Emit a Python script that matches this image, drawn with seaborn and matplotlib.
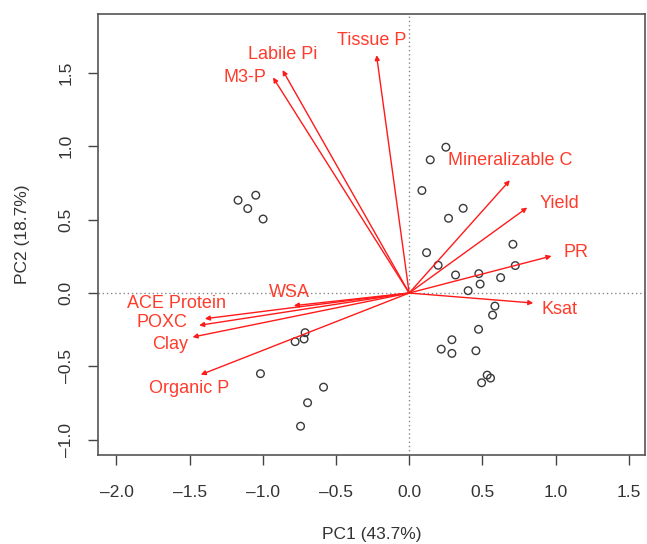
import numpy as np
import pandas as pd
import matplotlib
matplotlib.use("Agg")
import matplotlib.pyplot as plt
import seaborn as sns

# PCA scores (sites)
pc1_scores = [-1.169, -1.048, -1.103, -0.998,
              0.251, 0.144, 0.087, 0.369, 0.269, 0.709, 0.119, 0.198, 0.725,
              0.317, 0.476, 0.625, 0.485, 0.403,
              0.586, 0.570, 0.474, 0.292, 0.219, 0.292, 0.456, 0.533, 0.556, 0.495,
              -0.711, -0.718, -0.779, -1.016, -0.585, -0.694, -0.742]
pc2_scores = [0.632, 0.666, 0.575, 0.504,
              0.993, 0.907, 0.698, 0.577, 0.509, 0.332, 0.275, 0.189, 0.187,
              0.123, 0.132, 0.105, 0.061, 0.016,
              -0.089, -0.150, -0.247, -0.318, -0.382, -0.411, -0.393, -0.559, -0.579, -0.611,
              -0.270, -0.313, -0.331, -0.549, -0.641, -0.747, -0.907]

# loadings (arrow tips) and where each label sits
variables = ["Tissue P", "Labile Pi", "M3-P", "Mineralizable C", "Yield", "PR",
             "Ksat", "WSA", "ACE Protein", "POXC", "Clay", "Organic P"]
load_pc1 = [-0.223, -0.865, -0.930, 0.688, 0.807, 0.973,
            0.848, -0.788, -1.396, -1.435, -1.480, -1.424]
load_pc2 = [1.620, 1.518, 1.468, 0.768, 0.582, 0.252,
            -0.068, -0.086, -0.175, -0.220, -0.300, -0.556]
label_x = [-0.257, -0.865, -1.123, 0.693, 1.025, 1.139,
           1.025, -0.820, -1.590, -1.692, -1.636, -1.506]
label_y = [1.718, 1.627, 1.468, 0.905, 0.609, 0.275,
           -0.113, 0.005, -0.072, -0.202, -0.350, -0.652]

scores = pd.DataFrame({"PC1": pc1_scores, "PC2": pc2_scores})

sns.set_style("white")
plt.rcParams["font.family"] = ["Liberation Sans", "DejaVu Sans"]

fig = plt.figure(figsize=(6.47, 5.44), dpi=100)
ax = fig.add_axes([98 / 647, 1 - 454.5 / 544, (644.5 - 98) / 647, (454.5 - 14) / 544])

ax.axhline(0, color="#888888", lw=1, ls=(0, (1, 2)), zorder=1)
ax.axvline(0, color="#888888", lw=1, ls=(0, (1, 2)), zorder=1)

sns.scatterplot(data=scores, x="PC1", y="PC2", ax=ax, marker="o", s=30,
                facecolor="none", edgecolor="#3a3a3a", linewidth=1.0, zorder=3)

for name, lx, ly, tx, ty in zip(variables, load_pc1, load_pc2, label_x, label_y):
    ax.annotate("", xy=(lx, ly), xytext=(0, 0),
                arrowprops=dict(arrowstyle="-|>", color="#ff1a1a", lw=1.0,
                                mutation_scale=7, shrinkA=0, shrinkB=0),
                zorder=4)
    ax.text(tx, ty, name, color="#ff3b2b", fontsize=13, ha="center", va="center", zorder=5)

ax.set_xlim(-2.126, 1.608)
ax.set_ylim(-1.0995, 1.900)
ax.set_xticks(np.arange(-2.0, 1.51, 0.5))
ax.set_yticks(np.arange(-1.0, 1.51, 0.5))
ax.set_xticklabels([f"{v:.1f}".replace("-", "\u2013") for v in np.arange(-2.0, 1.51, 0.5)])
ax.set_yticklabels([f"{v:.1f}".replace("-", "\u2013") for v in np.arange(-1.0, 1.51, 0.5)],
                   rotation=90, va="center")
ax.tick_params(axis="both", direction="out", length=7.5, width=1, color="#444444",
               labelsize=12.5, labelcolor="#333333", bottom=True, left=True)
ax.tick_params(axis="x", pad=14.5)
ax.tick_params(axis="y", pad=10)
for sp in ax.spines.values():
    sp.set_color("#555555")
    sp.set_linewidth(1.2)

ax.set_xlabel("PC1 (43.7%)", fontsize=12.5, color="#333333", labelpad=19.5)
ax.set_ylabel("PC2 (18.7%)", fontsize=12.5, color="#333333", labelpad=21)

fig.savefig("out.png", dpi=100)
